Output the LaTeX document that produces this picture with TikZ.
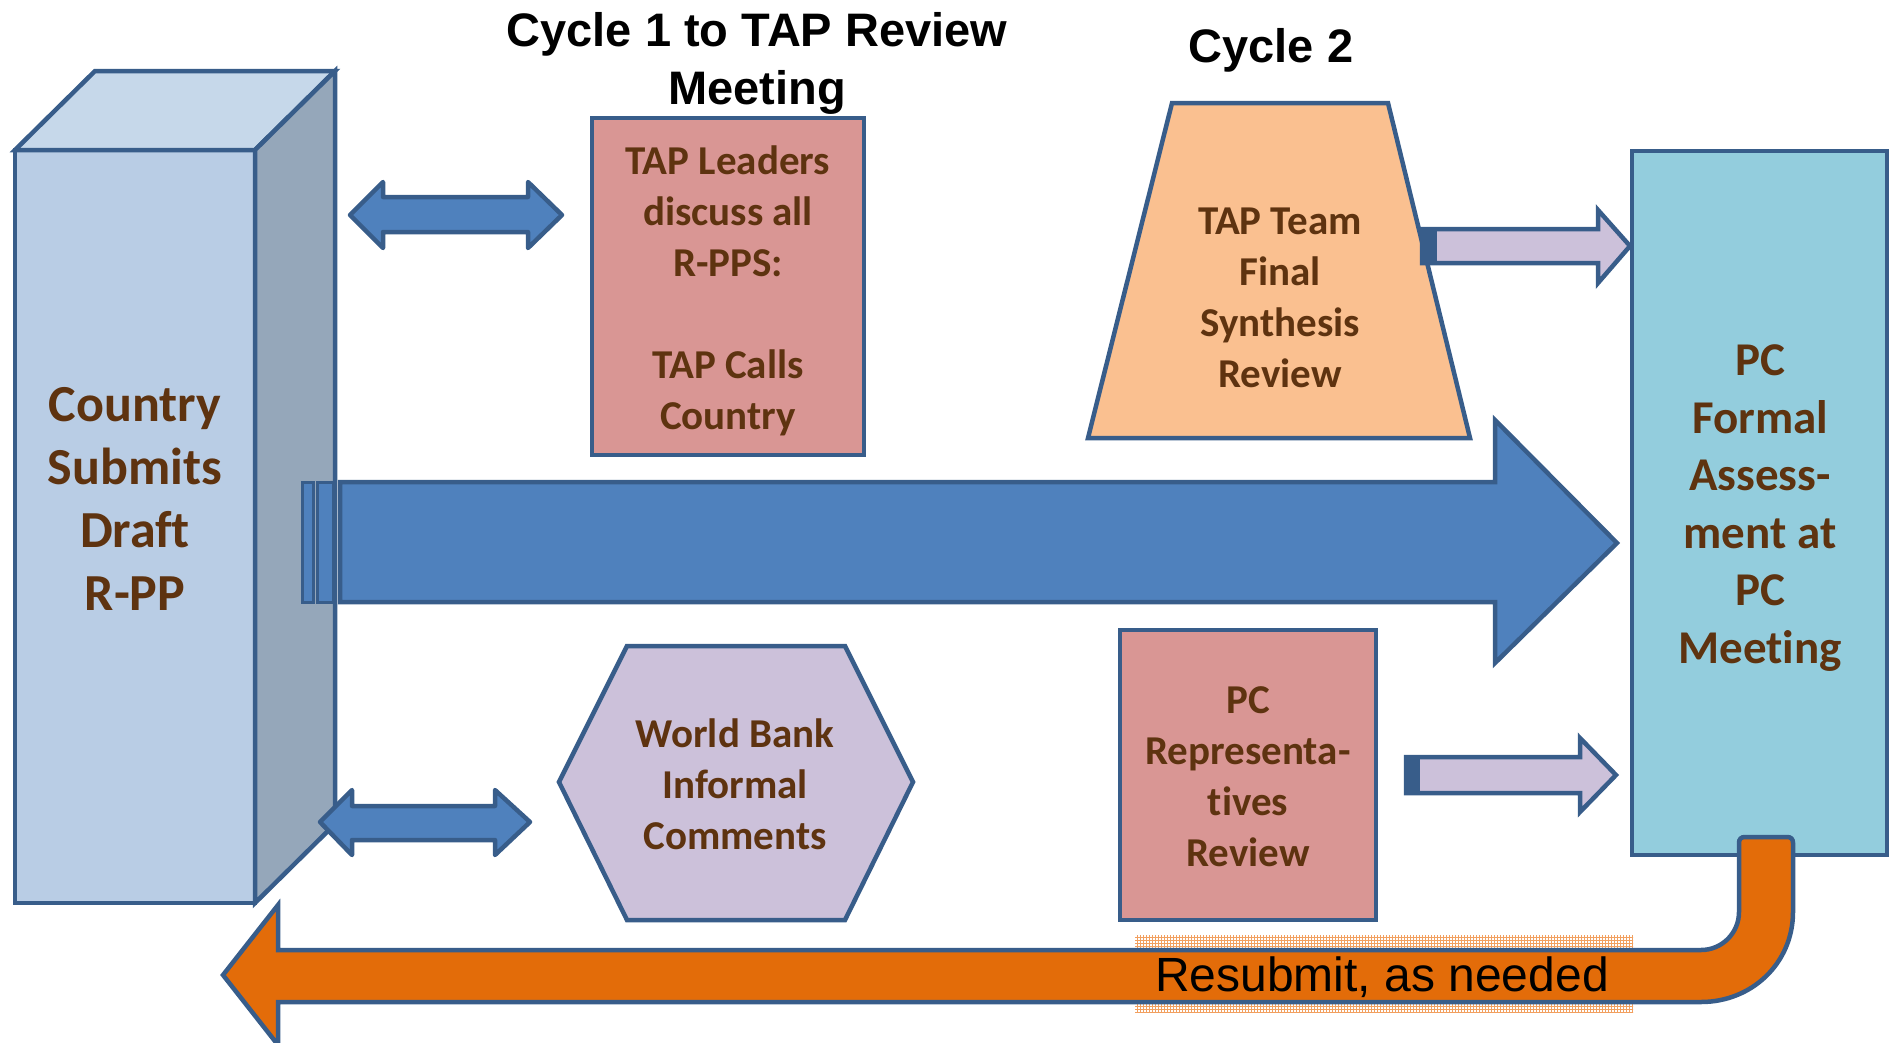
\documentclass[tikz,border=0pt]{standalone}
\usepackage{fontspec}
\setmainfont{Carlito}[RawFeature={-liga}]
\newfontfamily\arialfont{Liberation Sans}
\usetikzlibrary{patterns}
\definecolor{bord}{HTML}{385D8A}
\definecolor{cubefront}{HTML}{B9CDE5}
\definecolor{cubetop}{HTML}{C6D8EA}
\definecolor{cubeside}{HTML}{95A7BA}
\definecolor{bigblue}{HTML}{4F81BD}
\definecolor{pinkbox}{HTML}{D99694}
\definecolor{peach}{HTML}{FAC090}
\definecolor{lilac}{HTML}{CCC1DA}
\definecolor{pcblue}{HTML}{93CDDD}
\definecolor{orng}{HTML}{E36C09}
\definecolor{patt}{HTML}{F2A060}
\definecolor{txtbrown}{HTML}{5E3310}
\begin{document}
\begin{tikzpicture}[x=1pt,y=-1pt,line join=miter,
  blk/.style={draw=bord,line width=4.5pt},
  lbl/.style={text=txtbrown,font=\bfseries\fontsize{41}{51}\selectfont,align=center,inner sep=0pt},
  bigl/.style={text=txtbrown,font=\bfseries\fontsize{52}{63}\selectfont,align=center,inner sep=0pt},
  pcl/.style={text=txtbrown,font=\bfseries\fontsize{47}{57.6}\selectfont,align=center,inner sep=0pt},
  ttl/.style={text=black,font=\arialfont\bfseries\fontsize{47}{58}\selectfont,align=center,inner sep=0pt}]
\useasboundingbox (0,0) rectangle (1893,1042);

% titles
\node[ttl] (t1) at (757,63) {Cycle 1 to TAP Review\\Meeting};
\node[ttl] (t2) at (1271,50) {Cycle 2};

% cube
\filldraw[blk,fill=cubefront] (15,150) rectangle (255,903);
\filldraw[blk,fill=cubetop] (15,150) -- (95,71) -- (335,71) -- (255,150) -- cycle;
\filldraw[blk,fill=cubeside] (255,150) -- (335,71) -- (335,824) -- (255,903) -- cycle;
\node[bigl] (country) at (135,499) {Country\\Submits\\Draft\\R-PP};

% TAP leaders box
\node[blk,fill=pinkbox,minimum width=272pt,minimum height=337pt] (tapbox) at (728,286.5) {};
\node[lbl] (taptext) at (728,291) {TAP Leaders\\discuss all\\R-PPS:\\\mbox{}\\TAP Calls\\Country};

% trapezoid
\filldraw[blk,fill=peach] (1172,103) -- (1388,103) -- (1470,438) -- (1088,438) -- cycle;
\node[lbl] (synth) at (1280,298) {TAP Team\\Final\\Synthesis\\Review};

% hexagon
\filldraw[blk,fill=lilac] (559,782) -- (627,646) -- (845,646) -- (913,782) -- (845,920) -- (627,920) -- cycle;
\node[lbl] (wb) at (735,784) {World Bank\\Informal\\Comments};

% PC reps box
\node[blk,fill=pinkbox,minimum width=256pt,minimum height=290pt] (pcrep) at (1248,775) {};
\node[lbl] (pcreptext) at (1248,777) {PC\\Representa-\\tives\\Review};

% PC box
\node[blk,fill=pcblue,minimum width=255pt,minimum height=704pt] (pc) at (1759.5,503) {};
\node[pcl] (pctext) at (1760,508) {PC\\Formal\\Assess-\\ment at\\PC\\Meeting};

% big blue arrow
\filldraw[blk,fill=bigblue,line width=3pt] (302,482) rectangle (313,602);
\filldraw[blk,fill=bigblue,line width=3pt] (317,482) rectangle (333,602);
\filldraw[blk,fill=bigblue] (340,482) -- (1495,482) -- (1495,420) -- (1617,543) -- (1495,663) -- (1495,602) -- (340,602) -- cycle;

% double arrows
\filldraw[blk,fill=bigblue,line join=round] (350,215) -- (383,182) -- (383,197) -- (528,197) -- (528,182) -- (562,215) -- (528,248) -- (528,232) -- (383,232) -- (383,248) -- cycle;
\filldraw[blk,fill=bigblue,line join=round] (320,822) -- (352,790) -- (352,806) -- (495,806) -- (495,790) -- (530,822) -- (495,855) -- (495,840) -- (352,840) -- (352,855) -- cycle;

% lilac arrows
\filldraw[blk,fill=lilac] (1422,229) -- (1598,229) -- (1598,210) -- (1630,246) -- (1598,283) -- (1598,263) -- (1422,263) -- cycle;
\fill[bord] (1420,227) rectangle (1437,265);
\filldraw[blk,fill=lilac] (1406,757) -- (1580,757) -- (1580,738) -- (1616,775) -- (1580,812) -- (1580,793) -- (1406,793) -- cycle;
\fill[bord] (1404,755) rectangle (1420,795);

% orange return arrow
\fill[pattern=grid,pattern color=patt] (1135,935) rectangle (1633,1012);
\filldraw[blk,fill=orng] (223,975) -- (278,905) -- (278,950) -- (1701,950)
  .. controls (1722,950) and (1739,933) .. (1739,912)
  -- (1739,843) .. controls (1739,839) and (1741,837) .. (1745,837)
  -- (1787,837) .. controls (1791,837) and (1793,839) .. (1793,843)
  -- (1793,912) .. controls (1793,963) and (1752,1002) .. (1701,1002)
  -- (278,1002) -- (278,1045) -- cycle;
\node[text=black,font=\arialfont\fontsize{48}{58}\selectfont,anchor=base,inner sep=0pt] (resub) at (1382,991) {Resubmit, as needed};
\end{tikzpicture}
\end{document}
